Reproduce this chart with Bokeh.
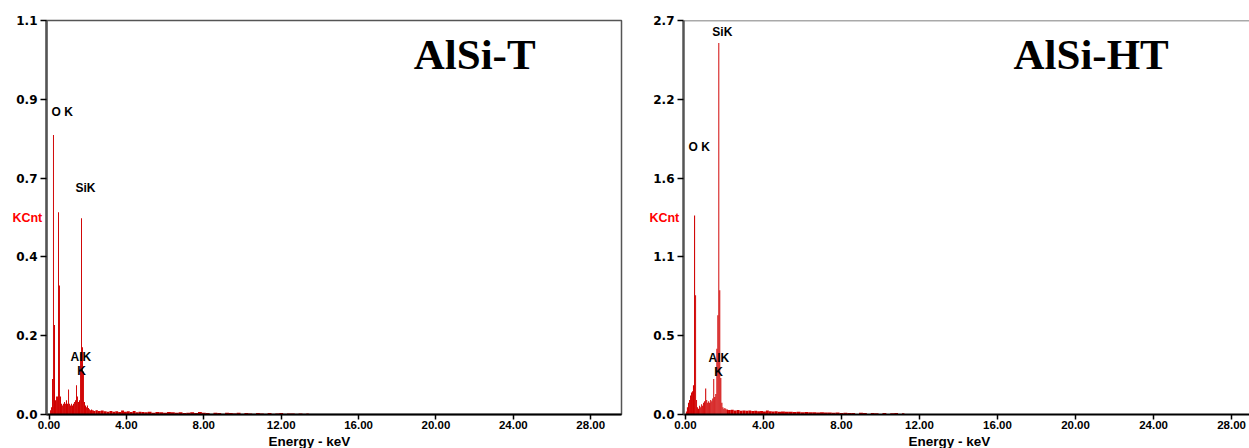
from bokeh.plotting import figure
from bokeh.layouts import row
from bokeh.models import FixedTicker, Range1d, Span, ColumnDataSource, Title
from bokeh.core.properties import value
from bokeh.embed import file_html
from bokeh.resources import INLINE

# ---------------- data ----------------
x_ticks = [0, 4, 8, 12, 16, 20, 24, 28]
x_tick_labels = ["0.00", "4.00", "8.00", "12.00", "16.00", "20.00", "24.00", "28.00"]

t_y_ticks = [0.0, 0.22, 0.44, 0.66, 0.88, 1.1]
t_y_labels = ["0.0", "0.2", "0.4", "0.7", "0.9", "1.1"]
ht_y_ticks = [0.0, 0.54, 1.08, 1.62, 2.16, 2.7]
ht_y_labels = ["0.0", "0.5", "1.1", "1.6", "2.2", "2.7"]

# AlSi-T spectrum (keV, KCnt)
t_energy = [0.08, 0.13, 0.18, 0.23, 0.28, 0.34, 0.39, 0.44, 0.49, 0.54, 0.59, 0.65, 0.70,
            0.75, 0.80, 0.85, 0.90, 0.96, 1.01, 1.06, 1.11, 1.16, 1.21, 1.27, 1.32, 1.37,
            1.42, 1.47, 1.52, 1.58, 1.63, 1.68, 1.73, 1.78, 1.83, 1.89, 1.94, 1.99, 2.04,
            2.09, 2.14, 2.20, 2.25, 2.30, 2.35,
            2.45, 2.6, 2.75, 2.9, 3.05, 3.2, 3.35, 3.5, 3.65, 3.8, 3.95, 4.1, 4.25, 4.4,
            4.55, 4.7, 4.85, 5.0, 5.2, 5.4, 5.6, 5.8, 6.0, 6.2, 6.4, 6.6, 6.8, 7.0, 7.2,
            7.4, 7.6, 7.8, 8.0, 8.2, 8.4, 8.6, 8.8, 9.0, 9.2, 9.4, 9.6, 9.8, 10.0, 10.2,
            10.4, 10.6, 10.8, 11.0, 11.2, 11.4, 11.6, 11.8, 12.0, 12.2, 12.4, 12.6, 12.8,
            13.0, 13.2, 13.4]
t_counts = [0.012, 0.02, 0.099, 0.78, 0.25, 0.04, 0.05, 0.05, 0.565, 0.36, 0.05, 0.03, 0.025,
            0.03, 0.035, 0.03, 0.04, 0.03, 0.07, 0.03, 0.025, 0.03, 0.025, 0.03, 0.035, 0.04,
            0.082, 0.05, 0.035, 0.04, 0.17, 0.548, 0.188, 0.12, 0.035, 0.025, 0.02, 0.025, 0.018,
            0.015, 0.012, 0.014, 0.012, 0.011, 0.010,
            0.012, 0.010, 0.011, 0.009, 0.008, 0.010, 0.008, 0.009, 0.007, 0.011, 0.008, 0.009,
            0.007, 0.010, 0.006, 0.008, 0.007, 0.006, 0.008, 0.005, 0.007, 0.006, 0.005, 0.007,
            0.006, 0.005, 0.006, 0.004, 0.005, 0.006, 0.004, 0.007, 0.005, 0.004, 0.0, 0.005,
            0.004, 0.0, 0.005, 0.004, 0.003, 0.005, 0.0, 0.004, 0.003, 0.0, 0.004, 0.003, 0.0,
            0.004, 0.0, 0.003, 0.004, 0.0, 0.003, 0.003, 0.0, 0.003, 0.0, 0.003]

# AlSi-HT spectrum (keV, KCnt)
ht_energy = [0.05, 0.10, 0.16, 0.21, 0.26, 0.31, 0.36, 0.41, 0.47, 0.52, 0.57, 0.62, 0.67,
             0.73, 0.78, 0.83, 0.88, 0.93, 0.98, 1.04, 1.09, 1.14, 1.19, 1.24, 1.30, 1.35,
             1.40, 1.45, 1.50, 1.56, 1.61, 1.66, 1.71, 1.76, 1.81, 1.87, 1.92, 1.97, 2.02, 2.07,
             2.12, 2.25, 2.4, 2.55, 2.7, 2.85, 3.0, 3.15, 3.3, 3.45, 3.6, 3.75, 3.9, 4.05, 4.2,
             4.35, 4.5, 4.65, 4.8, 5.0, 5.2, 5.4, 5.6, 5.8, 6.0, 6.2, 6.4, 6.6, 6.8, 7.0, 7.2,
             7.4, 7.6, 7.8, 8.0, 8.2, 8.4, 8.6, 8.8, 9.0, 9.2, 9.4, 9.6, 9.8, 10.0, 10.2, 10.4,
             10.6, 10.8, 11.0, 11.2]
ht_counts = [0.02, 0.05, 0.08, 0.10, 0.13, 0.15, 0.16, 0.20, 1.364, 0.818, 0.10, 0.05, 0.04,
             0.06, 0.05, 0.07, 0.06, 0.08, 0.09, 0.179, 0.10, 0.08, 0.09, 0.08, 0.10, 0.09,
             0.11, 0.243, 0.12, 0.14, 0.45, 0.68, 2.546, 0.852, 0.25, 0.08, 0.05, 0.04, 0.045, 0.04,
             0.035, 0.030, 0.032, 0.028, 0.030, 0.026, 0.028, 0.025, 0.027, 0.024, 0.026, 0.022,
             0.024, 0.021, 0.028, 0.022, 0.020, 0.022, 0.019, 0.020, 0.018, 0.019, 0.017, 0.018,
             0.016, 0.017, 0.015, 0.016, 0.014, 0.015, 0.013, 0.014, 0.012, 0.013, 0.011, 0.012,
             0.010, 0.011, 0.0, 0.012, 0.010, 0.0, 0.011, 0.009, 0.0, 0.010, 0.0, 0.009, 0.010,
             0.0, 0.009]

# peak labels
t_peak_text = ["O K", "SiK", "AlK", "K"]
t_peak_x = [0.13, 1.37, 1.65, 1.68]
t_peak_y = [0.845, 0.631, 0.160, 0.121]
t_peak_align = ["left", "left", "center", "center"]
ht_peak_text = ["SiK", "O K", "AlK", "K"]
ht_peak_x = [1.38, 0.16, 1.71, 1.70]
ht_peak_y = [2.62, 1.834, 0.386, 0.294]
ht_peak_align = ["left", "left", "center", "center"]

RED = "#d00000"
SANS = "Liberation Sans"


def edges(e):
    left, right = [], []
    n = len(e)
    for i in range(n):
        lo = (e[i] + e[i - 1]) / 2 if i > 0 else e[i] - 0.026
        hi = (e[i] + e[i + 1]) / 2 if i < n - 1 else e[i] + 0.026
        left.append(lo)
        right.append(hi)
    return left, right


def panel(energy, counts, yticks, ylabels, ymax, xr, width, border_left, border_right,
          title, title_x, ptext, px, py, palign, e_offset, outline):
    p = figure(width=width, height=448, output_backend="svg", toolbar_location=None,
               x_range=Range1d(*xr), y_range=Range1d(0, ymax),
               min_border_left=border_left, min_border_right=border_right,
               min_border_top=20, min_border_bottom=0)
    p.grid.visible = False
    p.background_fill_color = "white"
    p.border_fill_color = "white"
    if outline:
        p.outline_line_color = "#555555"
        p.outline_line_width = 1.5
    else:
        p.outline_line_color = None
        p.add_layout(Span(location=ymax, dimension="width", line_color="#555555",
                          line_width=1.5))

    l, r = edges(energy)
    src = ColumnDataSource(dict(left=l, right=r, top=counts))
    p.quad(left="left", right="right", bottom=0, top="top", source=src,
           fill_color=RED, line_color=None)

    # x axis
    xa = p.xaxis[0]
    xa.ticker = FixedTicker(ticks=x_ticks)
    xa.major_label_overrides = {t: s for t, s in zip(x_ticks, x_tick_labels)}
    xa.minor_tick_line_color = None
    xa.major_tick_in = 0
    xa.major_tick_out = 5
    xa.major_tick_line_color = "black"
    xa.major_tick_line_width = 1.5
    xa.axis_line_color = "black"
    xa.axis_line_width = 2
    xa.major_label_standoff = 1
    xa.major_label_text_font = SANS
    xa.major_label_text_font_style = "bold"
    xa.major_label_text_font_size = "11.5px"
    xa.major_label_text_color = "black"

    # y axis
    ya = p.yaxis[0]
    ya.ticker = FixedTicker(ticks=yticks)
    ya.major_label_overrides = {t: s for t, s in zip(yticks, ylabels)}
    ya.minor_tick_line_color = None
    ya.major_tick_in = 0
    ya.major_tick_out = 6
    ya.major_tick_line_color = "black"
    ya.major_tick_line_width = 1.5
    ya.axis_line_color = "#555555"
    ya.axis_line_width = 2.5
    ya.major_label_standoff = 3
    ya.major_label_text_font = "DejaVu Sans"
    ya.major_label_text_font_style = "bold"
    ya.major_label_text_font_size = "12px"
    ya.major_label_text_color = "black"
    ya.axis_label = "KCnt"
    ya.axis_label_orientation = "horizontal"
    ya.axis_label_standoff = -29
    ya.axis_label_text_font = SANS
    ya.axis_label_text_font_style = "bold"
    ya.axis_label_text_font_size = "12.5px"
    ya.axis_label_text_color = "#ff0000"

    # x axis title below, shifted like the original
    p.add_layout(Title(text="Energy - keV", align="left", offset=e_offset, standoff=0,
                       text_font=SANS, text_font_style="bold", text_font_size="13.5px",
                       text_color="black"), "below")

    # peak labels
    psrc = ColumnDataSource(dict(x=px, y=py, text=ptext, align=palign))
    p.text(x="x", y="y", text="text", source=psrc, text_align="align",
           text_baseline="middle", text_font=value(SANS), text_font_style="bold",
           text_font_size="12px", text_color="black")

    # panel title
    p.text(x=[title_x], y=[ymax * 0.913], text=[title], text_align="center",
           text_baseline="middle", text_font=value("Liberation Serif"),
           text_font_style="bold", text_font_size="43px", text_color="black")
    return p


p1 = panel(t_energy, t_counts, t_y_ticks, t_y_labels, 1.1, (-0.13, 29.59), 630, 46, 9,
           "AlSi-T", 22.0, t_peak_text, t_peak_x, t_peak_y, t_peak_align, 222, True)
p2 = panel(ht_energy, ht_counts, ht_y_ticks, ht_y_labels, 2.7, (-0.10, 28.92), 619, 53, 0,
           "AlSi-HT", 20.8, ht_peak_text, ht_peak_x, ht_peak_y, ht_peak_align, 225, False)

layout = row(p1, p2, spacing=0)
open("out.html", "w").write(file_html(layout, INLINE))
